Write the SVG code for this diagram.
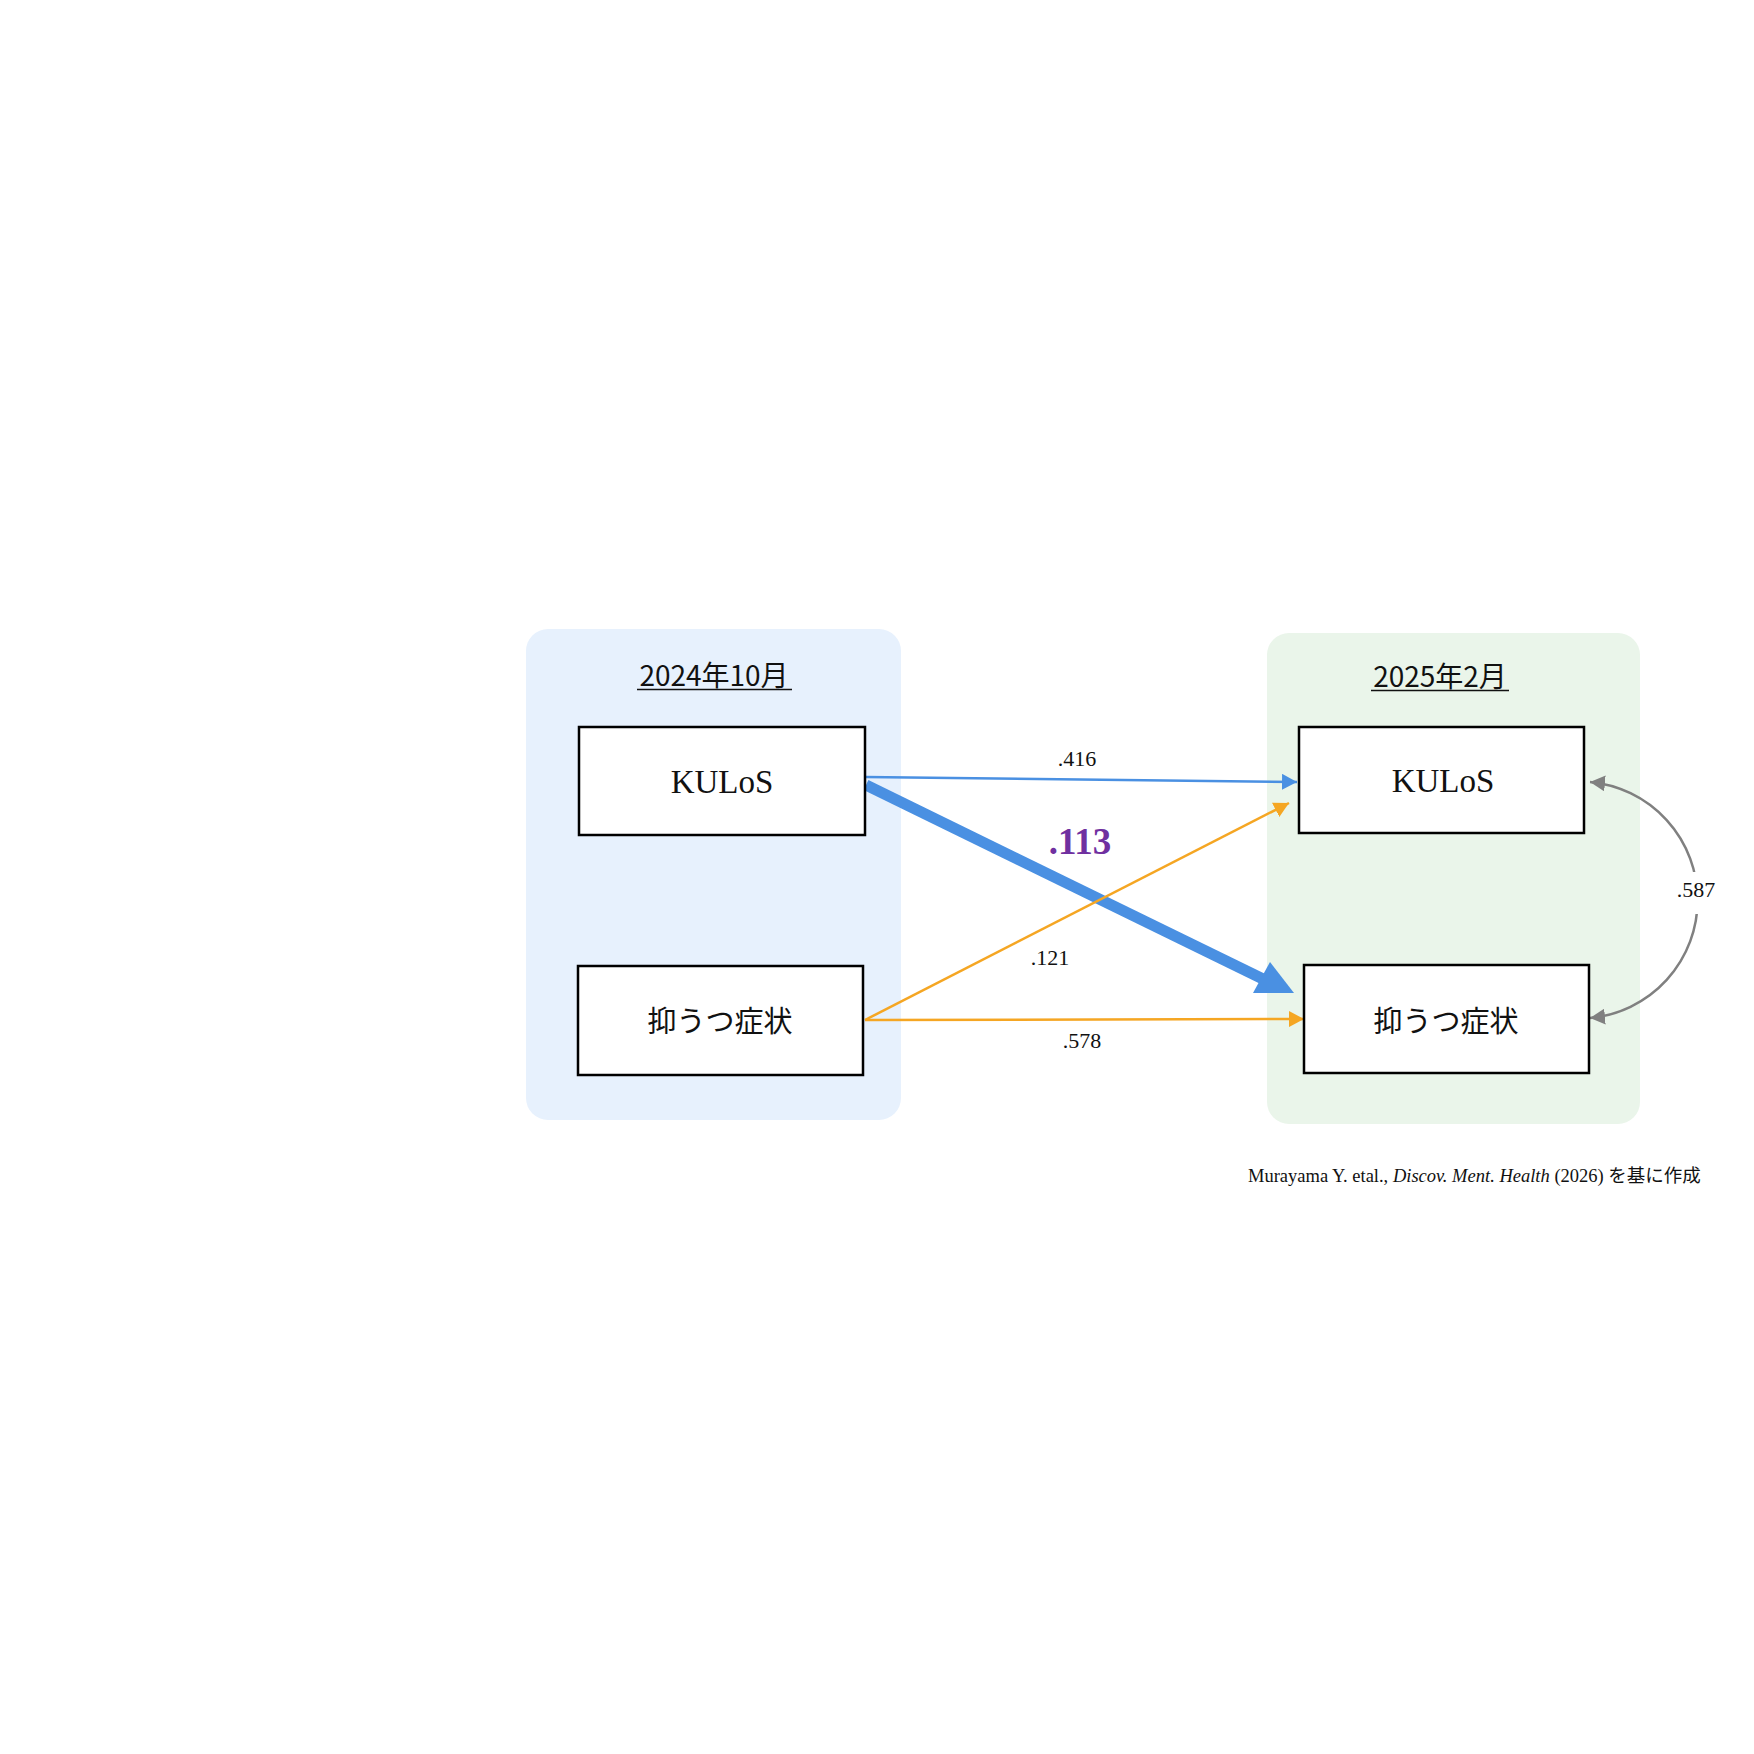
<svg xmlns="http://www.w3.org/2000/svg" width="1754" height="1754" viewBox="0 0 1754 1754">
<style>
.box{fill:#fff;stroke:#000;stroke-width:2.5}
.node{font-family:"Liberation Serif","Times New Roman",serif;font-size:33px;fill:#111;text-anchor:middle}
.jp{font-family:"Noto Sans CJK JP",sans-serif;font-size:29px;fill:#111;text-anchor:middle}
.title{font-family:"Noto Sans CJK JP",sans-serif;font-size:28px;fill:#111;text-anchor:middle}
.lab{font-family:"Liberation Serif","Times New Roman",serif;font-size:22px;fill:#111;text-anchor:middle}
.ul{stroke:#111;stroke-width:1.5}
</style>
<defs>
<marker id="ab" viewBox="0 0 15 16" refX="15" refY="8" markerWidth="15" markerHeight="16" markerUnits="userSpaceOnUse" orient="auto"><path d="M0,0 L15,8 L0,16 z" fill="#4A90E2"/></marker>
<marker id="ao" viewBox="0 0 15 16" refX="15" refY="8" markerWidth="15" markerHeight="16" markerUnits="userSpaceOnUse" orient="auto"><path d="M0,0 L15,8 L0,16 z" fill="#F5A623"/></marker>
<marker id="ag" viewBox="0 0 15 16" refX="15" refY="8" markerWidth="15" markerHeight="16" markerUnits="userSpaceOnUse" orient="auto-start-reverse"><path d="M0,0 L15,8 L0,16 z" fill="#808080"/></marker>
</defs>
<rect width="1754" height="1754" fill="#fff"/>
<g id="panel-2024">
<rect x="526" y="629" width="375" height="491" rx="22" fill="#E7F1FD"/>
<text class="title" x="714" y="686">2024年10月</text>
<line class="ul" x1="637" y1="689.5" x2="792" y2="689.5"/>
</g>
<g id="panel-2025">
<rect x="1267" y="633" width="373" height="491" rx="22" fill="#EAF5EA"/>
<text class="title" x="1440" y="687">2025年2月</text>
<line class="ul" x1="1371" y1="690.5" x2="1509" y2="690.5"/>
</g>
<g id="connectors" fill="none">
<path d="M865,777 L1297,782" stroke="#4A90E2" stroke-width="2.5" marker-end="url(#ab)"/>
<path d="M866,785 L1263,979" stroke="#4A90E2" stroke-width="11"/>
<polygon points="1253,993 1270,962 1294,993" fill="#4A90E2"/>
<path d="M865,1020 L1289,803" stroke="#F5A623" stroke-width="2.5" marker-end="url(#ao)"/>
<path d="M865,1020 L1304,1019" stroke="#F5A623" stroke-width="2.5" marker-end="url(#ao)"/>
<path d="M1590,782 A118.5,118.5 0 0,1 1590,1018" stroke="#808080" stroke-width="2.5" marker-start="url(#ag)" marker-end="url(#ag)"/>
<rect x="1674" y="872" width="46" height="42" fill="#fff"/>
<text class="lab" x="1077" y="766">.416</text>
<text x="1080" y="854" font-family="Liberation Serif, Times New Roman, serif" font-size="37" font-weight="bold" fill="#7030A0" text-anchor="middle">.113</text>
<text class="lab" x="1050" y="965">.121</text>
<text class="lab" x="1082" y="1048">.578</text>
<text class="lab" x="1696" y="897" font-size="23">.587</text>
</g>
<g id="kulos-2024">
<rect class="box" x="579" y="727" width="286" height="108"/>
<text class="node" x="722" y="793">KULoS</text>
</g>
<g id="dep-2024">
<rect class="box" x="578" y="966" width="285" height="109"/>
<text class="jp" x="720" y="1032">抑うつ症状</text>
</g>
<g id="kulos-2025">
<rect class="box" x="1299" y="727" width="285" height="106"/>
<text class="node" x="1443" y="792">KULoS</text>
</g>
<g id="dep-2025">
<rect class="box" x="1304" y="965" width="285" height="108"/>
<text class="jp" x="1446" y="1032">抑うつ症状</text>
</g>
<text x="1248" y="1182" font-family="Liberation Serif, Times New Roman, serif" font-size="18.5" fill="#111">Murayama Y. etal., <tspan font-style="italic">Discov. Ment. Health</tspan> (2026) <tspan font-family="Noto Sans CJK JP, sans-serif">を基に作成</tspan></text>
</svg>
